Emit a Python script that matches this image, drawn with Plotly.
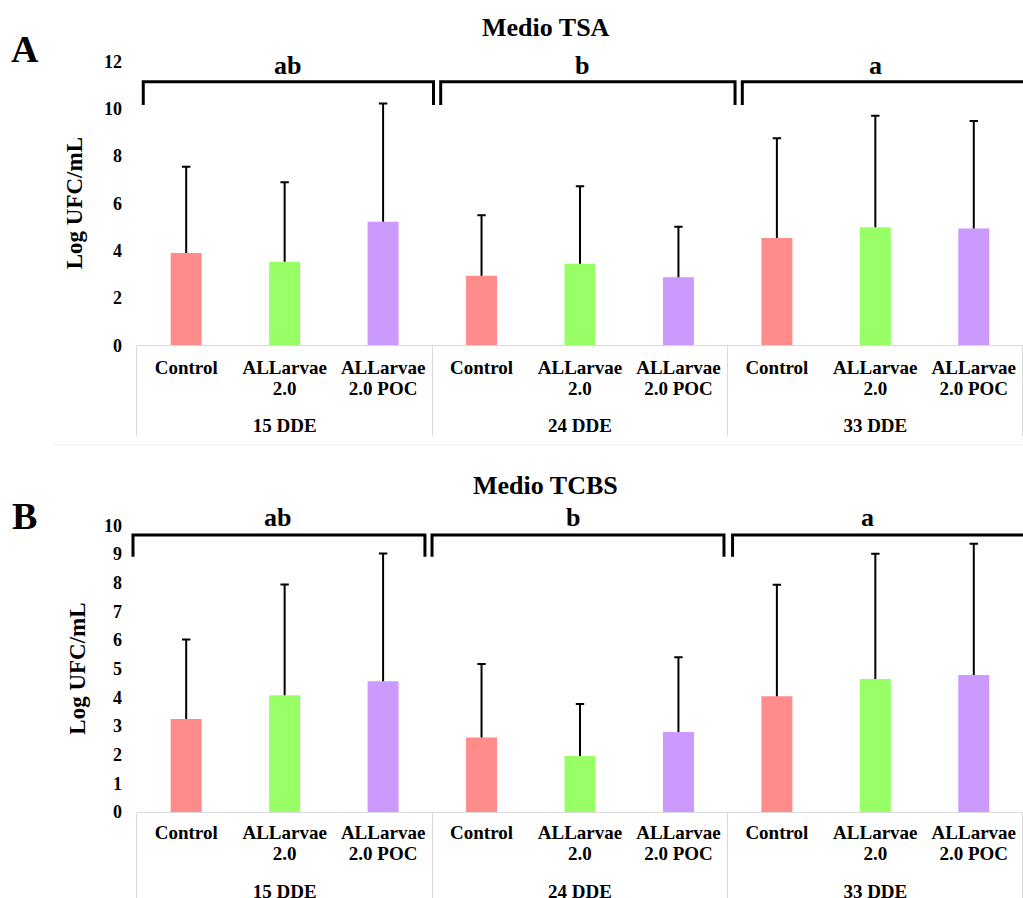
import plotly.graph_objects as go

# ---- data ----
groups = ["15 DDE", "24 DDE", "33 DDE"]
treatments = ["Control", "ALLarvae<br>2.0", "ALLarvae<br>2.0 POC"]
colors = ["#FF8B8B", "#99FF66", "#CC99FF"]

tsa_means = [3.90, 3.53, 5.22, 2.94, 3.45, 2.87, 4.53, 4.99, 4.93]
tsa_sd = [3.65, 3.36, 5.00, 2.56, 3.27, 2.14, 4.22, 4.71, 4.55]

tcbs_means = [3.24, 4.07, 4.56, 2.60, 1.95, 2.79, 4.04, 4.64, 4.78]
tcbs_sd = [2.78, 3.87, 4.46, 2.56, 1.82, 2.61, 3.89, 4.37, 4.58]

group_letters = ["ab", "b", "a"]

# ---- build ----
LABEL_PX = 19  # visible size of category text; base tickfont is smaller to tighten line spacing


def big(label):
    return "<br>".join(f"<span style='font-size:{LABEL_PX}px'>{part}</span>"
                       for part in label.split("<br>"))


x_outer = ["<br>" + big(g) for g in groups for _ in treatments]
x_inner = [big(t) for _ in groups for t in treatments]
bar_colors = [colors[i % 3] for i in range(len(x_outer))]

FONT = "Liberation Serif"
fig = go.Figure()


def add_panel(means, sds, xa, ya):
    fig.add_trace(go.Bar(
        x=[x_outer, x_inner], y=means,
        marker=dict(color=bar_colors, line=dict(width=0)),
        error_y=dict(type="data", array=sds, arrayminus=[0] * len(sds),
                     symmetric=False, color="black", thickness=2, width=0),
        xaxis=xa, yaxis=ya, showlegend=False,
    ))
    fig.add_trace(go.Scatter(
        x=[x_outer, x_inner], y=[m + s for m, s in zip(means, sds)],
        mode="markers",
        marker=dict(symbol="line-ew", size=6, line=dict(width=2, color="black")),
        xaxis=xa, yaxis=ya, showlegend=False, hoverinfo="skip",
    ))


add_panel(tsa_means, tsa_sd, "x", "y")
add_panel(tcbs_means, tcbs_sd, "x2", "y2")

xcommon = dict(
    type="multicategory", domain=[0.1339, 1.0],
    showline=True, linecolor="#d9d9d9", linewidth=1,
    showdividers=True, dividercolor="#d9d9d9", dividerwidth=1,
    ticks="", showgrid=False, automargin=False, tickangle=0,
    tickfont=dict(family=FONT, size=16.4, color="black", weight="bold"),
)
ycommon = dict(
    showline=False, showgrid=False, zeroline=False, ticks="",
    automargin=False, ticklabelstandoff=14,
    tickfont=dict(family=FONT, size=18, color="black", weight="bold"),
)

fig.update_layout(
    width=1023, height=898,
    margin=dict(l=0, r=0, t=0, b=0),
    paper_bgcolor="white", plot_bgcolor="white",
    bargap=0.685,
    xaxis=dict(anchor="y", ticklabelstandoff=8, **xcommon),
    yaxis=dict(anchor="x", domain=[0.6155, 0.9317], range=[0, 12], dtick=2, **ycommon),
    xaxis2=dict(anchor="y2", ticklabelstandoff=6, **xcommon),
    yaxis2=dict(anchor="x2", domain=[0.0958, 0.415], range=[0, 10], dtick=1, **ycommon),
)

# brackets and significance letters (decoration)
brackets_top = [(0.0071, 0.3347), (0.3428, 0.675), (0.6832, 1.01)]
letters_top_x = [0.170, 0.502, 0.834]
brackets_bot = [(-0.0045, 0.3250), (0.3330, 0.6625), (0.6722, 1.01)]
letters_bot_x = [0.159, 0.492, 0.824]

shapes = []
annotations = []
for (x0, x1), lx, lt in zip(brackets_top, letters_top_x, group_letters):
    shapes.append(dict(type="path", xref="x domain", yref="y",
                       path=f"M {x0},10.15 L {x0},11.14 L {x1},11.14 L {x1},10.15",
                       line=dict(color="black", width=3)))
    annotations.append(dict(text=lt, xref="x domain", yref="paper", x=lx, y=0.9276,
                            showarrow=False, xanchor="center", yanchor="middle",
                            font=dict(family=FONT, size=26, color="black", weight="bold")))
for (x0, x1), lx, lt in zip(brackets_bot, letters_bot_x, group_letters):
    shapes.append(dict(type="path", xref="x2 domain", yref="y2",
                       path=f"M {x0},8.90 L {x0},9.66 L {x1},9.66 L {x1},8.90",
                       line=dict(color="black", width=3)))
    annotations.append(dict(text=lt, xref="x2 domain", yref="paper", x=lx, y=0.4232,
                            showarrow=False, xanchor="center", yanchor="middle",
                            font=dict(family=FONT, size=26, color="black", weight="bold")))

shapes.append(dict(type="line", xref="paper", yref="paper", x0=0.0518, x1=1.0,
                   y0=0.5045, y1=0.5045, line=dict(color="#efefef", width=1)))


def txt(text, x, y, size, angle=0):
    annotations.append(dict(text=text, xref="paper", yref="paper", x=x, y=y,
                            showarrow=False, xanchor="center", yanchor="middle",
                            textangle=angle,
                            font=dict(family=FONT, size=size, color="black", weight="bold")))


txt("Medio TSA", 0.534, 0.9699, 26)
txt("Medio TCBS", 0.533, 0.4599, 26)
txt("A", 0.0244, 0.9458, 38)
txt("B", 0.0235, 0.4254, 38)
txt("Log UFC/mL", 0.0723, 0.7736, 23, -90)
txt("Log UFC/mL", 0.0762, 0.2553, 23, -90)

fig.update_layout(shapes=shapes, annotations=annotations)
fig.write_html("out.html")
